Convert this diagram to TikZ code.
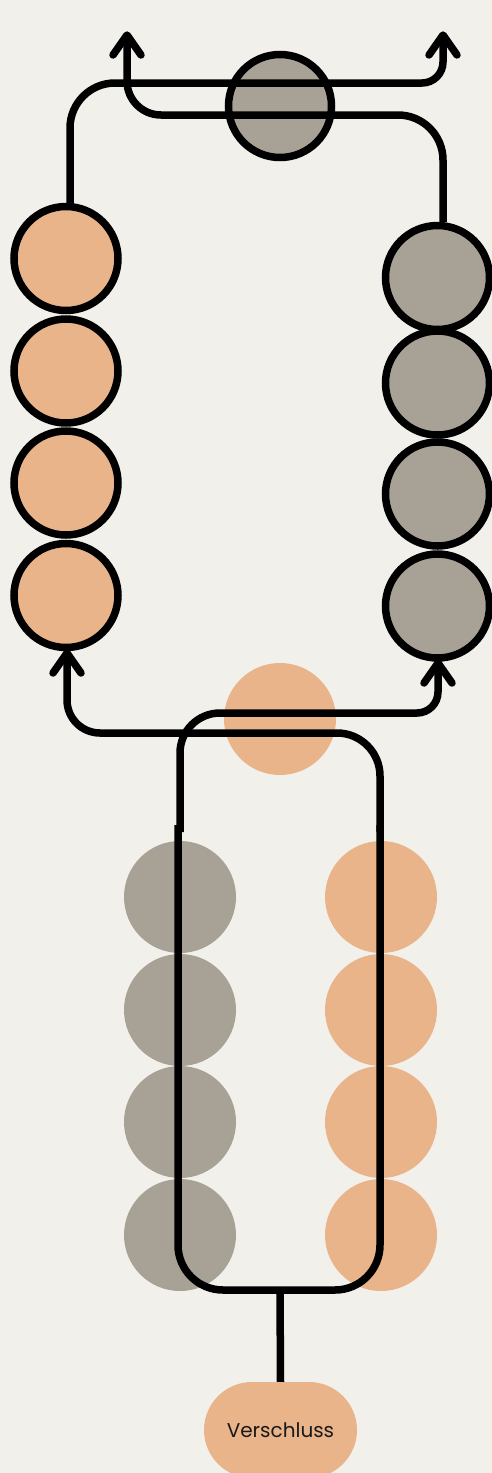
\documentclass[tikz,border=0pt]{standalone}
\usepackage{fontspec}
\setmainfont{Poppins}
\definecolor{bgc}{RGB}{242,240,235}
\definecolor{orng}{RGB}{233,180,138}
\definecolor{gry}{RGB}{168,161,150}
\begin{document}
\begin{tikzpicture}[x=1pt,y=-1pt,
  ring/.style={circle, inner sep=0pt, minimum size=104pt, draw=black, line width=7.5pt},
  dot/.style={circle, inner sep=0pt, minimum size=112pt},
  conn/.style={draw=black, line width=7.5pt},
  tip/.style={draw=black, line width=7.5pt, line cap=round, line join=round}]
\useasboundingbox (0,0) rectangle (492,1473);
\fill[bgc] (0,0) rectangle (492,1473);
% faint background dots
\node[dot, fill=orng] (mid) at (280,719) {};
\foreach \i/\yy in {1/897,2/1010,3/1122,4/1235}{
  \node[dot, fill=gry] (g\i) at (180,\yy) {};
  \node[dot, fill=orng] (o\i) at (381,\yy) {};
}
% top gray circle
\node[ring, fill=gry, minimum size=103pt] (top) at (280,106) {};
% stacks
\foreach \i/\yy in {1/258.5,2/371,3/483,4/595.5}{
  \node[ring, fill=orng] (L\i) at (66,\yy) {};
}
\foreach \i/\yy in {1/277.5,2/383,3/494,4/606}{
  \node[ring, fill=gry] (R\i) at (437.5,\yy) {};
}
% bottom node
\node[fill=orng, rounded corners=48pt, minimum width=153pt, minimum height=96pt, inner sep=0pt,
      font=\fontsize{20}{24}\selectfont, text=black!90] (V) at (280.5,1430) {Verschluss};
% coordinates for arrow tips
\coordinate (tA) at (443,35);
\coordinate (tB) at (127,35);
\coordinate (tC) at (67,653);
\coordinate (tD) at (438,663);
% path A: left stack -> right top arrow
\draw[conn] (70,205) -- (70,128) arc[start angle=180, end angle=270, radius=45]
  -- (422,83) arc[start angle=90, end angle=0, radius=21] -- (tA);
% path B: right stack -> left top arrow
\draw[conn] (443,222) -- (443,160) arc[start angle=0, end angle=-90, radius=45]
  -- (161,115) arc[start angle=90, end angle=180, radius=34] -- (tB);
% path C: bottom U -> left stack
\draw[conn] (tC) -- (67,700) arc[start angle=180, end angle=90, radius=33]
  -- (337,733) arc[start angle=270, end angle=360, radius=43] -- (380,832);
% path D: bottom U -> right stack
\draw[conn] (tD) -- (438,692) arc[start angle=0, end angle=90, radius=21]
  -- (220,713) arc[start angle=270, end angle=180, radius=40] -- (180,832);
% bottom U
\draw[conn] (178,825) -- (178,1245) arc[start angle=180, end angle=90, radius=45]
  -- (335,1290) arc[start angle=90, end angle=0, radius=45] -- (380,825);
\coordinate (stem) at (280,1290);
\draw[conn] (stem) -- (V.north);
% arrow heads
\draw[tip] ([xshift=-14pt,yshift=-20pt]tA) -- (tA) -- ([xshift=14pt,yshift=-20pt]tA);
\draw[tip] ([xshift=-14pt,yshift=-20pt]tB) -- (tB) -- ([xshift=14pt,yshift=-20pt]tB);
\draw[tip] ([xshift=-14pt,yshift=-20pt]tC) -- (tC) -- ([xshift=14pt,yshift=-20pt]tC);
\draw[tip] ([xshift=-14pt,yshift=-20pt]tD) -- (tD) -- ([xshift=14pt,yshift=-20pt]tD);
\end{tikzpicture}
\end{document}
